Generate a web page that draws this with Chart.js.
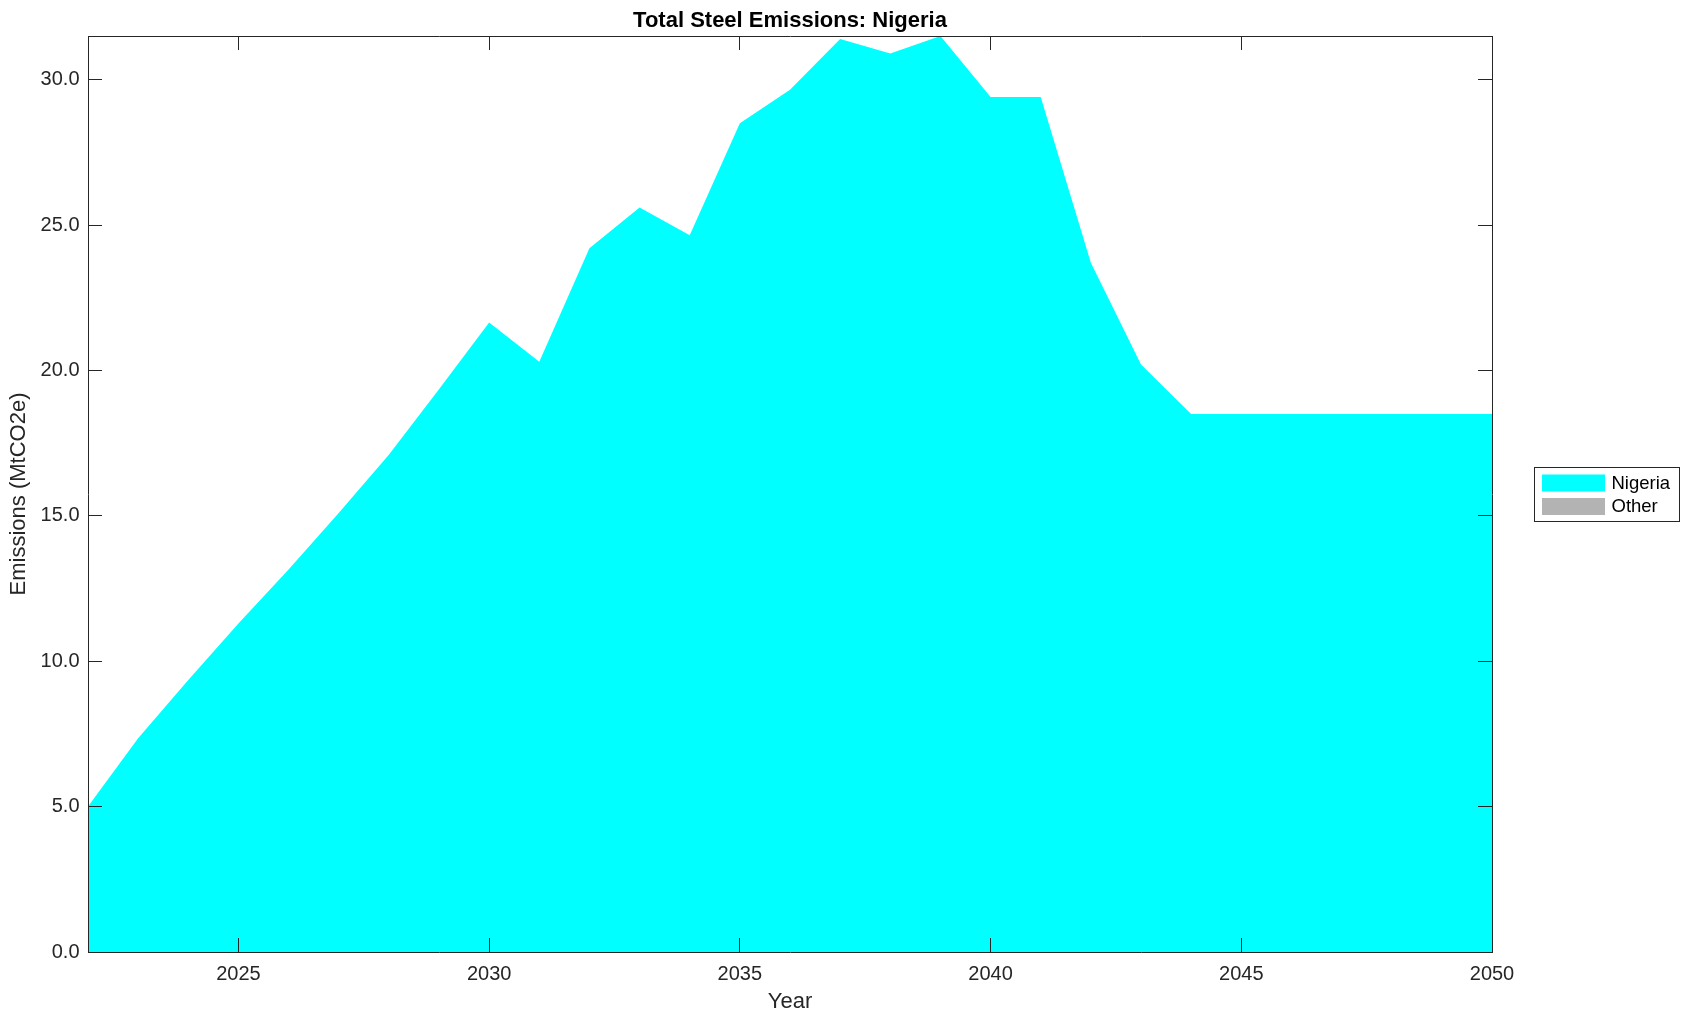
<!DOCTYPE html>
<html>
<head>
<meta charset="utf-8">
<script src="https://cdn.jsdelivr.net/npm/chart.js@4.4.0/dist/chart.umd.min.js"></script>
<style>
    html, body { margin: 0; padding: 0; background: #fff; }
</style>
</head>
<body>
<canvas id="myCanvas" width="1690" height="1021"></canvas>
<script>
const years = [2022, 2023, 2024, 2025, 2026, 2027, 2028, 2029, 2030, 2031,
    2032, 2033, 2034, 2035, 2036, 2037, 2038, 2039, 2040, 2041,
    2042, 2043, 2044, 2045, 2046, 2047, 2048, 2049, 2050]
const nigeria = [5.0, 7.35, 9.35, 11.3, 13.15, 15.1, 17.1, 19.35, 21.65, 20.3,
    24.2, 25.6, 24.65, 28.5, 29.65, 31.4, 30.9, 31.5, 29.4, 29.4,
    23.7, 20.2, 18.5, 18.5, 18.5, 18.5, 18.5, 18.5, 18.5]
const other = years.map(() => 0)
const xTicks = [2025, 2030, 2035, 2040, 2045, 2050]
const yTicks = [0, 5, 10, 15, 20, 25, 30]

const axisColor = '#262626'
const fontName = '"Liberation Sans", Arial, Helvetica, sans-serif'

function toPoints(values) {
    return years.map((yr, i) => ({ x: yr, y: values[i] }))
}

// MATLAB style box legend on the right
const boxLegend = {
    id: 'boxLegend',
    afterDraw(chart) {
        const ctx = chart.ctx
        const area = chart.chartArea
        const left = area.right + 42.5
        const top = (area.top + area.bottom) / 2 - 26.5
        ctx.save()
        ctx.strokeStyle = axisColor
        ctx.lineWidth = 1
        ctx.strokeRect(left, top, 145, 54)
        ctx.font = '18.5px ' + fontName
        ctx.textBaseline = 'middle'
        chart.data.datasets.forEach((ds, i) => {
            const y = top + 7 + i * 23.5
            ctx.fillStyle = ds.backgroundColor
            ctx.fillRect(left + 7.5, y, 63, 17)
            ctx.fillStyle = '#000'
            ctx.fillText(ds.label, left + 77, y + 9)
        })
        ctx.restore()
    }
}

function fixedTicks(list) {
    return (scale) => { scale.ticks = list.map(v => ({ value: v })) }
}

// tick marks point inwards and sit on top of the area, like MATLAB
const gridOpts = { drawOnChartArea: false, tickLength: -14, color: axisColor, z: 1 }
const borderOpts = { display: true, color: axisColor, width: 1, z: 1 }

let ctx = document.getElementById('myCanvas').getContext('2d')
let chartInstance = new Chart(ctx, {
    type: 'line',
    data: {
        datasets: [
            {
                label: 'Nigeria',
                data: toPoints(nigeria),
                backgroundColor: '#00FFFF',
                borderWidth: 0,
                pointRadius: 0,
                fill: 'origin',
            },
            {
                label: 'Other',
                data: toPoints(other),
                backgroundColor: '#B3B3B3',
                borderWidth: 0,
                pointRadius: 0,
                fill: '-1',
            },
        ],
    },
    options: {
        responsive: false,
        animation: false,
        devicePixelRatio: 1,
        layout: { padding: { left: 0, right: 198, top: 0, bottom: 0 } },
        plugins: {
            legend: { display: false },
            tooltip: { enabled: false },
            title: {
                display: true,
                fullSize: false,
                text: 'Total Steel Emissions: Nigeria',
                color: '#000',
                font: { family: fontName, size: 22, weight: 'bold', lineHeight: 1.2 },
                padding: { top: 8, bottom: 1.6 },
            },
        },
        scales: {
            x: {
                type: 'linear',
                min: 2022,
                max: 2050,
                afterBuildTicks: fixedTicks(xTicks),
                afterFit: (scale) => { scale.height = 69 },
                grid: gridOpts,
                border: borderOpts,
                ticks: {
                    color: axisColor,
                    padding: 24,
                    font: { family: fontName, size: 20 },
                    maxRotation: 0,
                    callback: (v) => String(v),
                },
                title: {
                    display: true,
                    text: 'Year',
                    color: axisColor,
                    font: { family: fontName, size: 22 },
                    padding: { top: 0, bottom: 6 },
                },
            },
            x2: {
                type: 'linear',
                position: 'top',
                min: 2022,
                max: 2050,
                afterBuildTicks: fixedTicks(xTicks),
                afterFit: (scale) => { scale.height = 0 },
                grid: gridOpts,
                border: borderOpts,
                ticks: { display: false },
            },
            y: {
                stacked: true,
                min: 0,
                max: 31.5,
                afterBuildTicks: fixedTicks(yTicks),
                afterFit: (scale) => { scale.width = 88 },
                grid: gridOpts,
                border: borderOpts,
                ticks: {
                    color: axisColor,
                    padding: 22.5,
                    font: { family: fontName, size: 20 },
                    callback: (v) => v.toFixed(1),
                },
                title: {
                    display: true,
                    text: 'Emissions (MtCO2e)',
                    color: axisColor,
                    font: { family: fontName, size: 22 },
                    padding: { top: 6, bottom: 0 },
                },
            },
            y2: {
                position: 'right',
                min: 0,
                max: 31.5,
                afterBuildTicks: fixedTicks(yTicks),
                afterFit: (scale) => { scale.width = 0 },
                grid: gridOpts,
                border: borderOpts,
                ticks: { display: false },
            },
        },
    },
    plugins: [boxLegend],
})
</script>
</body>
</html>
